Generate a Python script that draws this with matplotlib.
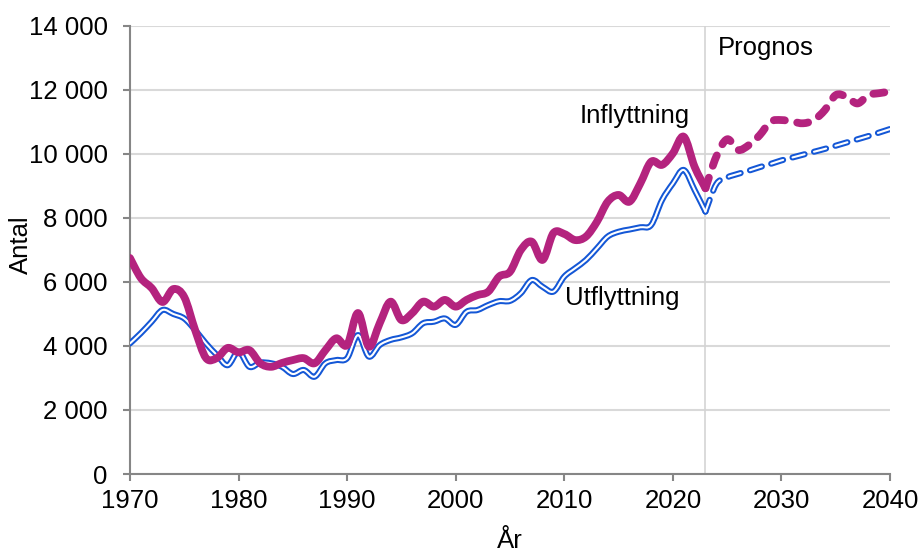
import matplotlib.pyplot as plt
import numpy as np
from matplotlib.path import Path
from matplotlib.patches import PathPatch

plt.rcParams['font.family'] = ['Liberation Sans', 'DejaVu Sans']
plt.rcParams['lines.scale_dashes'] = False

# historical data 1970-2023
years_hist = list(range(1970, 2024))
infl_hist = [6750, 6125, 5810, 5375, 5780, 5530, 4500, 3625, 3625, 3940,
             3800, 3870, 3460, 3350, 3470, 3560, 3620, 3460, 3870, 4240,
             4030, 5030, 3980, 4710, 5385, 4810, 5030, 5385, 5230, 5440,
             5230, 5440, 5590, 5700, 6170, 6320, 7000, 7260, 6690, 7530,
             7500, 7310, 7420, 7880, 8510, 8720, 8510, 9080, 9760, 9660,
             10020, 10540, 9600, 8930]
utfl_hist = [4080, 4400, 4760, 5125, 5000, 4860, 4500, 4080, 3720, 3400,
             3820, 3350, 3480, 3460, 3350, 3125, 3250, 3040, 3460, 3560,
             3620, 4340, 3670, 4030, 4190, 4270, 4400, 4710, 4760, 4860,
             4660, 5070, 5125, 5280, 5400, 5410, 5650, 6060, 5850, 5700,
             6170, 6430, 6690, 7050, 7420, 7570, 7640, 7710, 7780, 8560,
             9080, 9500, 8875, 8200]

# forecast 2023-2040
years_prog = list(range(2023, 2041))
infl_prog = [8930, 9920, 10460, 10125, 10280, 10590, 11010, 11060, 11010,
             10960, 11060, 11375, 11840, 11790, 11580, 11840, 11900, 11950]
utfl_prog = [8200, 9060, 9270, 9380, 9480, 9590, 9690, 9800, 9890, 9980,
             10070, 10160, 10260, 10360, 10460, 10560, 10670, 10780]

purple = '#B4237E'
blue = '#1457D6'
fs = 18.5


def smooth_path(x, y):
    # Excel-style smoothed line: cubic bezier segments through the data points
    p = np.column_stack([x, y]).astype(float)
    ext = np.vstack([p[0], p, p[-1]])
    verts = [p[0]]
    codes = [Path.MOVETO]
    for i in range(len(p) - 1):
        c1 = p[i] + (ext[i + 2] - ext[i]) / 6
        c2 = p[i + 1] - (ext[i + 3] - ext[i + 1]) / 6
        verts += [c1, c2, p[i + 1]]
        codes += [Path.CURVE4] * 3
    return Path(verts, codes)


def draw(ax, x, y, color, lw, ls='solid', z=3):
    ax.add_patch(PathPatch(smooth_path(x, y), fill=False, edgecolor=color, lw=lw,
                           linestyle=ls, capstyle='round', joinstyle='round',
                           zorder=z))


fig = plt.figure(figsize=(9.23, 5.54), dpi=100)
ax = fig.add_axes([0.1408, 0.1444, 0.8235, 0.8087])

ax.set_xlim(1970, 2040)
ax.set_ylim(0, 14000)
ax.set_yticks(np.arange(0, 14001, 2000))
ax.set_xticks(np.arange(1970, 2041, 10))
ax.yaxis.set_major_formatter(lambda v, p: f'{int(v):,}'.replace(',', ' '))
ax.grid(axis='y', color='#D9D9D9', lw=1.5)
ax.set_axisbelow(True)
ax.axvline(2023, color='#D4D4D4', lw=1.2, zorder=1)

for s in ['top', 'right']:
    ax.spines[s].set_visible(False)
for s in ['left', 'bottom']:
    ax.spines[s].set_color('#868686')
    ax.spines[s].set_linewidth(1.5)
ax.tick_params(length=5, width=1.5, color='#868686', labelsize=fs)
ax.tick_params(axis='y', pad=11)
ax.tick_params(axis='x', pad=6)

# utflyttning: blue outlined line
draw(ax, years_hist, utfl_hist, blue, 4.4, z=3)
draw(ax, years_hist, utfl_hist, 'white', 1.5, z=4)
draw(ax, years_prog, utfl_prog, blue, 4.4, (0, (9, 7)), z=3)
draw(ax, years_prog, utfl_prog, 'white', 1.5, (0, (9, 7)), z=4)

# inflyttning
draw(ax, years_hist, infl_hist, purple, 5.6, z=5)
draw(ax, years_prog, infl_prog, purple, 5.6, (0, (8, 9)), z=5)

ax.text(2016.5, 11190, 'Inflyttning', fontsize=fs, ha='center', va='center')
ax.text(2015.3, 5500, 'Utflyttning', fontsize=fs, ha='center', va='center')
ax.text(2024.1, 13310, 'Prognos', fontsize=fs, ha='left', va='center')

fig.text(21 / 923, 1 - 245 / 554, 'Antal', fontsize=fs, rotation=90,
         ha='center', va='center')
fig.text(510 / 923, 1 - 541 / 554, 'År', fontsize=fs, ha='center', va='center')

fig.savefig('out.png', dpi=100)
